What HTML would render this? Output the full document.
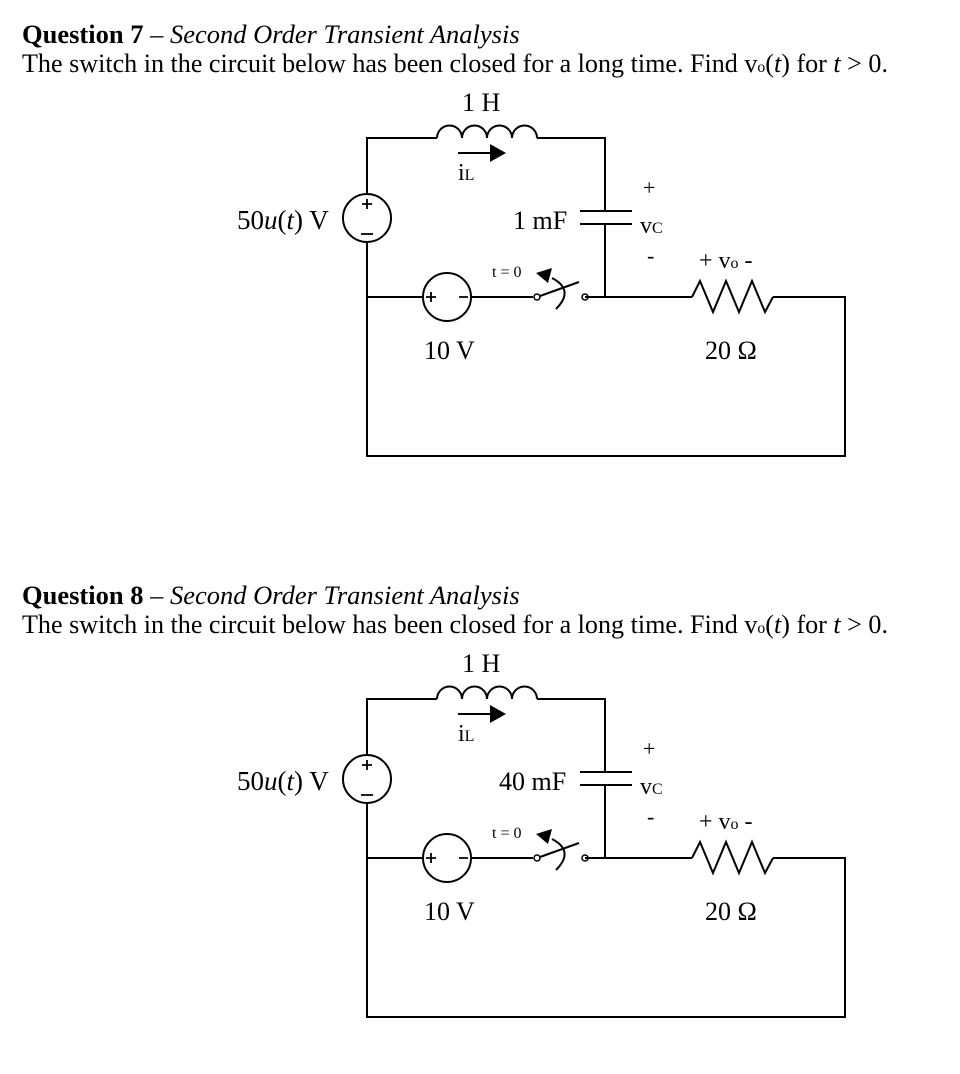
<!DOCTYPE html>
<html><head><meta charset="utf-8"><style>
html,body{margin:0;padding:0;background:#fff;}
svg{display:block;}
text{font-family:"Liberation Serif",serif;fill:#000;}
</style></head><body>
<svg width="960" height="1074" viewBox="0 0 960 1074" xmlns="http://www.w3.org/2000/svg">
<defs>
<g id="ckt" fill="none" stroke="#000" stroke-width="2">
  <path d="M367,194 V138 H437 M537,138 H605 V211 M605,224 V297 M367,242 V456 H845 V297 H773 M585,297 H692 M367,297 H423 M471,297 H533"/>
  <path d="M437,138 a12.5,12.5 0 0 1 25,0 a12.5,12.5 0 0 1 25,0 a12.5,12.5 0 0 1 25,0 a12.5,12.5 0 0 1 25,0"/>
  <path d="M580,211 H632 M580,224 H632"/>
  <circle cx="367" cy="218" r="24"/>
  <circle cx="447" cy="297" r="24"/>
  <circle cx="537" cy="297" r="3" stroke-width="1.5"/>
  <circle cx="585" cy="297" r="3" stroke-width="1.5"/>
  <path d="M540,296 L579,282"/>
  <path d="M556,309 Q575,290 552,278"/>
  <path d="M692,297 L700,281 L713,312 L726,281 L739,312 L752,281 L765,312 L773,297"/>
  <path d="M458,153 H492"/>
  <path d="M362,204 h10 M367,199 v10 M361,234 h12 M426,297 h10 M431,292 v10 M459,297 h9" stroke-width="1.8"/>
</g>
</defs>
<text x="22" y="43" font-size="26.5"><tspan font-weight="bold">Question 7</tspan> – <tspan font-style="italic">Second Order Transient Analysis</tspan></text>
<text x="22" y="72" font-size="26.5" textLength="866" lengthAdjust="spacingAndGlyphs">The switch in the circuit below has been closed for a long time. Find v<tspan font-size="16">o</tspan>(<tspan font-style="italic">t</tspan>) for <tspan font-style="italic">t</tspan> &gt; 0.</text>
<text x="22" y="604" font-size="26.5"><tspan font-weight="bold">Question 8</tspan> – <tspan font-style="italic">Second Order Transient Analysis</tspan></text>
<text x="22" y="633" font-size="26.5" textLength="866" lengthAdjust="spacingAndGlyphs">The switch in the circuit below has been closed for a long time. Find v<tspan font-size="16">o</tspan>(<tspan font-style="italic">t</tspan>) for <tspan font-style="italic">t</tspan> &gt; 0.</text>

<g>
<use href="#ckt"/>
<polygon points="490,144 506,153 490,162"/>
<polygon points="536,273 552,268 548,283"/>
<text x="462" y="111" font-size="26">1 H</text>
<text x="458" y="180" font-size="24">i<tspan font-size="16">L</tspan></text>
<text x="237" y="229" font-size="27">50<tspan font-style="italic">u</tspan>(<tspan font-style="italic">t</tspan>) V</text>
<text x="513" y="229" font-size="26">1 mF</text>
<text x="643" y="195" font-size="22">+</text>
<text x="640" y="233" font-size="24">v<tspan font-size="16">C</tspan></text>
<text x="647" y="263" font-size="22">-</text>
<text x="492" y="277" font-size="16">t = 0</text>
<text x="699" y="268" font-size="24">+ v<tspan font-size="16">o</tspan> -</text>
<text x="424" y="359" font-size="26">10 V</text>
<text x="705" y="359" font-size="26">20 Ω</text>
</g>
<g transform="translate(0,561)">
<use href="#ckt"/>
<polygon points="490,144 506,153 490,162"/>
<polygon points="536,273 552,268 548,283"/>
<text x="462" y="111" font-size="26">1 H</text>
<text x="458" y="180" font-size="24">i<tspan font-size="16">L</tspan></text>
<text x="237" y="229" font-size="27">50<tspan font-style="italic">u</tspan>(<tspan font-style="italic">t</tspan>) V</text>
<text x="499" y="229" font-size="26">40 mF</text>
<text x="643" y="195" font-size="22">+</text>
<text x="640" y="233" font-size="24">v<tspan font-size="16">C</tspan></text>
<text x="647" y="263" font-size="22">-</text>
<text x="492" y="277" font-size="16">t = 0</text>
<text x="699" y="268" font-size="24">+ v<tspan font-size="16">o</tspan> -</text>
<text x="424" y="359" font-size="26">10 V</text>
<text x="705" y="359" font-size="26">20 Ω</text>
</g>
</svg>
</body></html>
